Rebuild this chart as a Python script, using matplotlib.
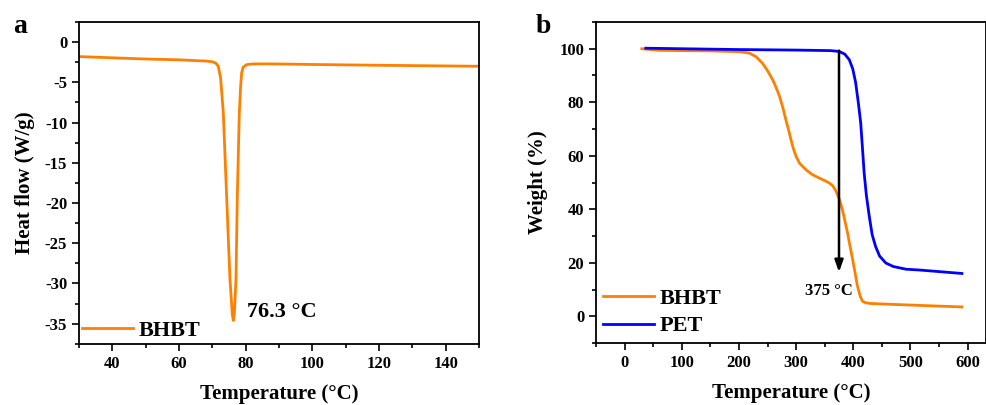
import matplotlib
matplotlib.use("Agg")
import matplotlib.pyplot as plt
from matplotlib.ticker import MultipleLocator

plt.rcParams['font.family'] = ['Liberation Serif', 'DejaVu Serif']
plt.rcParams['font.weight'] = 'bold'
plt.rcParams['axes.unicode_minus'] = False

# ---- DSC data (panel a) ----
dsc_temp = [30, 40, 50, 60, 65, 68, 70, 71, 71.8, 72.5, 73.3, 74.3, 75.3, 76.0, 76.3,
            76.6, 77.1, 77.5, 78.1, 78.5, 78.8, 79.3, 80.3, 82, 85, 90, 100, 110, 120,
            130, 140, 150]
dsc_heat = [-1.8, -1.95, -2.1, -2.2, -2.3, -2.35, -2.45, -2.6, -3.0, -4.5, -8.8, -19.2,
            -29.5, -33.8, -34.6, -33.8, -29.5, -19.2, -8.8, -5.5, -3.8, -3.1, -2.8, -2.72,
            -2.7, -2.72, -2.78, -2.83, -2.88, -2.92, -2.96, -3.0]
dsc_peak_label = "76.3 °C"

# ---- TGA data (panel b) ----
bhbt_temp = [30, 40, 60, 100, 150, 183, 200, 218, 230, 241, 250, 259, 265, 271, 277, 282,
             287, 291, 295, 300, 306, 317, 328, 340, 350, 358, 364, 370, 376, 381, 386,
             390, 394, 399, 403, 407, 412, 416, 422, 430, 450, 500, 550, 590]
bhbt_weight = [100.0, 99.8, 99.4, 99.3, 99.2, 99.0, 98.9, 98.4, 97.0, 94.6, 91.8, 88.4,
               85.5, 82.2, 77.8, 73.5, 69.5, 66.0, 62.8, 59.7, 57.2, 54.8, 53.0, 51.7,
               50.7, 49.8, 48.8, 46.7, 43.5, 39.8, 35.0, 31.1, 26.5, 21.1, 16.4, 11.5,
               7.6, 5.6, 5.0, 4.8, 4.6, 4.2, 3.8, 3.5]
pet_temp = [37, 100, 200, 300, 360, 375, 385, 393, 399, 404, 409, 413, 416, 419, 423, 428,
            433, 439, 446, 457, 470, 492, 515, 550, 590]
pet_weight = [100.2, 100.0, 99.7, 99.5, 99.3, 99.0, 98.0, 95.9, 92.5, 87.5, 79.5, 72.2,
              63.0, 53.5, 45.0, 37.3, 30.5, 26.1, 22.5, 19.9, 18.6, 17.6, 17.3, 16.7,
              16.0]
onset_temp = 375
onset_label = "375 °C"

orange = '#FF8000'
blue = '#0000FF'

fig = plt.figure(figsize=(9.87, 4.05), dpi=100)
ax1 = fig.add_axes([0.080, 0.151, 0.4053, 0.7947])
ax2 = fig.add_axes([0.6039, 0.153, 0.3950, 0.7927])

def style(ax, xmaj, xmin, ymaj, ymin):
    ax.xaxis.set_major_locator(MultipleLocator(xmaj))
    ax.xaxis.set_minor_locator(MultipleLocator(xmin))
    ax.yaxis.set_major_locator(MultipleLocator(ymaj))
    ax.yaxis.set_minor_locator(MultipleLocator(ymin))
    ax.tick_params(which='both', direction='out', top=False, right=False, labelsize=12)
    ax.tick_params(which='major', length=5, width=1.2)
    ax.tick_params(which='minor', length=3, width=1.2)
    for s in ax.spines.values():
        s.set_linewidth(1.3)
    for lab in ax.get_xticklabels() + ax.get_yticklabels():
        lab.set_fontweight('bold')

# Panel a
ax1.plot(dsc_temp, dsc_heat, color=orange, lw=2.0, label='BHBT')
ax1.set_xlim(30, 150)
ax1.set_ylim(-37.5, 2.5)
style(ax1, 20, 10, 5, 2.5)
ax1.set_xlabel('Temperature (°C)', fontsize=15, fontweight='bold', labelpad=9)
ax1.set_ylabel('Heat flow (W/g)', fontsize=15, fontweight='bold', labelpad=7)
ax1.text(80.4, -33.6, dsc_peak_label, fontsize=16, fontweight='bold', va='center', ha='left')
ax1.legend(loc='lower left', frameon=False, handlelength=2.3,
           handletextpad=0.25, borderaxespad=0.0, borderpad=0.15,
           prop={'weight': 'bold', 'size': 16})

# Panel b
ax2.plot(bhbt_temp, bhbt_weight, color=orange, lw=2.0, label='BHBT')
ax2.plot(pet_temp, pet_weight, color=blue, lw=2.0, label='PET')
ax2.set_xlim(-50, 632)
ax2.set_ylim(-10, 110)
style(ax2, 100, 50, 20, 10)
ax2.set_xlabel('Temperature (°C)', fontsize=15, fontweight='bold', labelpad=9)
ax2.set_ylabel('Weight (%)', fontsize=15, fontweight='bold', labelpad=8)
ax2.annotate('', xy=(onset_temp, 16.5), xytext=(onset_temp, 99.3),
             arrowprops=dict(arrowstyle='-|>,head_length=0.7,head_width=0.25',
                             color='black', lw=1.8, shrinkA=0, shrinkB=0))
ax2.text(358, 9.3, onset_label, fontsize=12, fontweight='bold', ha='center', va='center')
ax2.legend(loc='lower left', frameon=False, handlelength=2.3, handletextpad=0.25,
           borderaxespad=0.0, borderpad=0.3, labelspacing=0.3,
           prop={'weight': 'bold', 'size': 16})

fig.text(0.013, 0.935, 'a', fontsize=20, fontweight='bold', va='center')
fig.text(0.543, 0.935, 'b', fontsize=20, fontweight='bold', va='center')

fig.savefig('out.png', dpi=100)
